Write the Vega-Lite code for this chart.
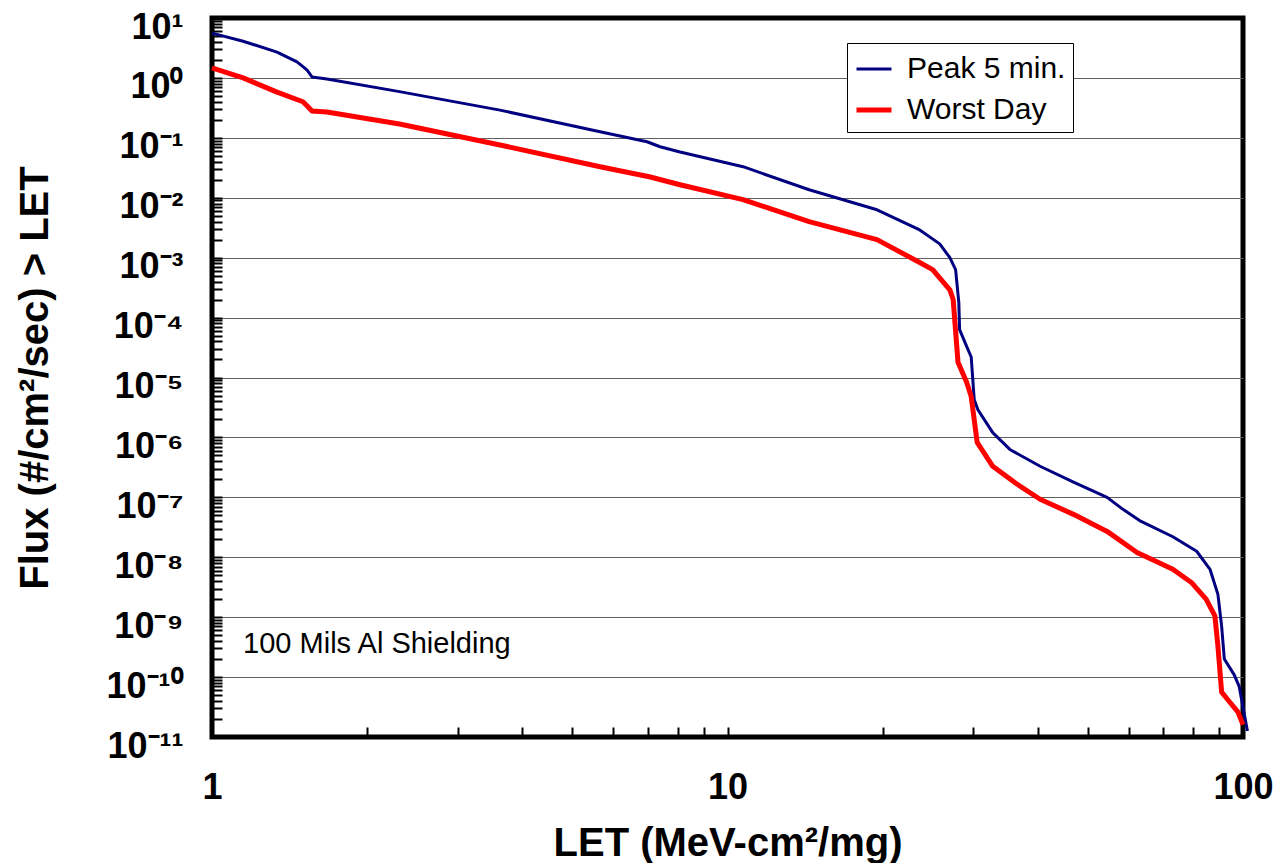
{
  "$schema": "https://vega.github.io/schema/vega-lite/v6.json",
  "width": 1031,
  "height": 719,
  "autosize": "none",
  "padding": {"left": 212, "top": 18, "right": 36, "bottom": 126},
  "background": "white",
  "config": {
    "view": {"stroke": "black", "strokeWidth": 5},
    "font": "Liberation Sans",
    "axis": {
      "labelFont": "Liberation Sans",
      "labelFontWeight": "bold",
      "labelFontSize": 36,
      "labelColor": "black",
      "titleFont": "Liberation Sans",
      "titleFontSize": 40,
      "titleFontWeight": "bold",
      "titleColor": "black",
      "ticks": true,
      "tickColor": "black",
      "tickWidth": 2,
      "tickSize": -10,
      "domain": false
    },
    "legend": {
      "labelFont": "Liberation Sans",
      "labelFontSize": 30,
      "labelColor": "black",
      "labelOffset": 13,
      "symbolType": "stroke",
      "symbolSize": 1225,
      "padding": 7,
      "rowPadding": 6,
      "strokeColor": "black",
      "fillColor": "white",
      "cornerRadius": 0
    }
  },
  "datasets": {
    "curves": [
      {"series": "Peak 5 min.", "let": 1.0, "flux": 5.6},
      {"series": "Peak 5 min.", "let": 1.149, "flux": 4.1},
      {"series": "Peak 5 min.", "let": 1.337, "flux": 2.7},
      {"series": "Peak 5 min.", "let": 1.462, "flux": 1.85},
      {"series": "Peak 5 min.", "let": 1.528, "flux": 1.36},
      {"series": "Peak 5 min.", "let": 1.563, "flux": 1.04},
      {"series": "Peak 5 min.", "let": 1.671, "flux": 0.96},
      {"series": "Peak 5 min.", "let": 2.31, "flux": 0.59},
      {"series": "Peak 5 min.", "let": 3.62, "flux": 0.29},
      {"series": "Peak 5 min.", "let": 5.66, "flux": 0.126},
      {"series": "Peak 5 min.", "let": 6.98, "flux": 0.086},
      {"series": "Peak 5 min.", "let": 7.4, "flux": 0.071},
      {"series": "Peak 5 min.", "let": 8.09, "flux": 0.058},
      {"series": "Peak 5 min.", "let": 10.72, "flux": 0.033},
      {"series": "Peak 5 min.", "let": 14.4, "flux": 0.0136},
      {"series": "Peak 5 min.", "let": 19.5, "flux": 0.0063},
      {"series": "Peak 5 min.", "let": 23.6, "flux": 0.0029},
      {"series": "Peak 5 min.", "let": 25.8, "flux": 0.0017},
      {"series": "Peak 5 min.", "let": 27.0, "flux": 0.001},
      {"series": "Peak 5 min.", "let": 27.7, "flux": 0.00063},
      {"series": "Peak 5 min.", "let": 28.1, "flux": 0.00018},
      {"series": "Peak 5 min.", "let": 28.2, "flux": 0.000063},
      {"series": "Peak 5 min.", "let": 29.1, "flux": 0.000033},
      {"series": "Peak 5 min.", "let": 29.7, "flux": 0.000022},
      {"series": "Peak 5 min.", "let": 30.1, "flux": 0.0000043},
      {"series": "Peak 5 min.", "let": 30.6, "flux": 0.0000029},
      {"series": "Peak 5 min.", "let": 32.7, "flux": 0.0000012},
      {"series": "Peak 5 min.", "let": 35.3, "flux": 6.3e-7},
      {"series": "Peak 5 min.", "let": 40.4, "flux": 3.3e-7},
      {"series": "Peak 5 min.", "let": 46.9, "flux": 1.8e-7},
      {"series": "Peak 5 min.", "let": 54.5, "flux": 1.0e-7},
      {"series": "Peak 5 min.", "let": 58.5, "flux": 6.3e-8},
      {"series": "Peak 5 min.", "let": 63.3, "flux": 4.0e-8},
      {"series": "Peak 5 min.", "let": 73.1, "flux": 2.2e-8},
      {"series": "Peak 5 min.", "let": 81.3, "flux": 1.26e-8},
      {"series": "Peak 5 min.", "let": 86.3, "flux": 6.3e-9},
      {"series": "Peak 5 min.", "let": 89.4, "flux": 2.4e-9},
      {"series": "Peak 5 min.", "let": 90.9, "flux": 7e-10},
      {"series": "Peak 5 min.", "let": 92.0, "flux": 2e-10},
      {"series": "Peak 5 min.", "let": 96.1, "flux": 1.1e-10},
      {"series": "Peak 5 min.", "let": 98.3, "flux": 7e-11},
      {"series": "Peak 5 min.", "let": 102.0, "flux": 1.26e-11},
      {"series": "Worst Day", "let": 1.0, "flux": 1.47},
      {"series": "Worst Day", "let": 1.149, "flux": 1.0},
      {"series": "Worst Day", "let": 1.337, "flux": 0.58},
      {"series": "Worst Day", "let": 1.501, "flux": 0.40},
      {"series": "Worst Day", "let": 1.535, "flux": 0.33},
      {"series": "Worst Day", "let": 1.563, "flux": 0.28},
      {"series": "Worst Day", "let": 1.671, "flux": 0.27},
      {"series": "Worst Day", "let": 2.31, "flux": 0.17},
      {"series": "Worst Day", "let": 3.62, "flux": 0.076},
      {"series": "Worst Day", "let": 5.66, "flux": 0.033},
      {"series": "Worst Day", "let": 7.05, "flux": 0.0224},
      {"series": "Worst Day", "let": 8.09, "flux": 0.0165},
      {"series": "Worst Day", "let": 10.72, "flux": 0.0093},
      {"series": "Worst Day", "let": 14.4, "flux": 0.004},
      {"series": "Worst Day", "let": 19.5, "flux": 0.002},
      {"series": "Worst Day", "let": 23.6, "flux": 0.00083},
      {"series": "Worst Day", "let": 25.0, "flux": 0.00063},
      {"series": "Worst Day", "let": 27.0, "flux": 0.00029},
      {"series": "Worst Day", "let": 27.4, "flux": 0.0002},
      {"series": "Worst Day", "let": 28.0, "flux": 0.000018},
      {"series": "Worst Day", "let": 29.1, "flux": 0.0000083},
      {"series": "Worst Day", "let": 29.7, "flux": 0.0000048},
      {"series": "Worst Day", "let": 30.5, "flux": 8.3e-7},
      {"series": "Worst Day", "let": 32.7, "flux": 3.3e-7},
      {"series": "Worst Day", "let": 36.3, "flux": 1.7e-7},
      {"series": "Worst Day", "let": 40.4, "flux": 9.3e-8},
      {"series": "Worst Day", "let": 46.9, "flux": 5.2e-8},
      {"series": "Worst Day", "let": 54.5, "flux": 2.7e-8},
      {"series": "Worst Day", "let": 62.3, "flux": 1.2e-8},
      {"series": "Worst Day", "let": 73.1, "flux": 6.3e-9},
      {"series": "Worst Day", "let": 79.4, "flux": 3.8e-9},
      {"series": "Worst Day", "let": 84.8, "flux": 2.0e-9},
      {"series": "Worst Day", "let": 88.2, "flux": 1.05e-9},
      {"series": "Worst Day", "let": 89.4, "flux": 3.3e-10},
      {"series": "Worst Day", "let": 90.9, "flux": 5.6e-11},
      {"series": "Worst Day", "let": 94.3, "flux": 3.8e-11},
      {"series": "Worst Day", "let": 97.8, "flux": 2.6e-11},
      {"series": "Worst Day", "let": 100.0, "flux": 1.6e-11}
    ],
    "notes": [
      {"let": 1.149, "flux": 3.5e-10, "label": "100 Mils Al Shielding"}
    ]
  },
  "layer": [
    {
      "data": {"name": "curves"},
      "mark": {"type": "line", "clip": false, "strokeJoin": "round"},
      "encoding": {
        "x": {
          "field": "let",
          "type": "quantitative",
          "scale": {"type": "log", "domain": [1, 100], "nice": false},
          "axis": {
            "title": "LET (MeV-cm²/mg)",
            "values": [1, 2, 3, 4, 5, 6, 7, 8, 9, 10, 20, 30, 40, 50, 60, 70, 80, 90, 100],
            "labelExpr": "(datum.value == 1 || datum.value == 10 || datum.value == 100) ? ('' + datum.value) : ''",
            "grid": false,
            "labelPadding": 43,
            "labelBaseline": "top",
            "titlePadding": 18,
            "labelFlush": false,
            "labelOverlap": false,
            "zindex": 2
          }
        },
        "y": {
          "field": "flux",
          "type": "quantitative",
          "scale": {"type": "log", "domain": [1e-11, 10], "nice": false},
          "axis": {
            "title": "Flux (#/cm²/sec) > LET",
            "values": [1e-11, 2e-11, 3e-11, 4e-11, 5e-11, 6e-11, 7e-11, 8e-11, 9e-11,
                       1e-10, 2e-10, 3e-10, 4e-10, 5e-10, 6e-10, 7e-10, 8e-10, 9e-10,
                       1e-9, 2e-9, 3e-9, 4e-9, 5e-9, 6e-9, 7e-9, 8e-9, 9e-9,
                       1e-8, 2e-8, 3e-8, 4e-8, 5e-8, 6e-8, 7e-8, 8e-8, 9e-8,
                       1e-7, 2e-7, 3e-7, 4e-7, 5e-7, 6e-7, 7e-7, 8e-7, 9e-7,
                       1e-6, 2e-6, 3e-6, 4e-6, 5e-6, 6e-6, 7e-6, 8e-6, 9e-6,
                       1e-5, 2e-5, 3e-5, 4e-5, 5e-5, 6e-5, 7e-5, 8e-5, 9e-5,
                       1e-4, 2e-4, 3e-4, 4e-4, 5e-4, 6e-4, 7e-4, 8e-4, 9e-4,
                       1e-3, 2e-3, 3e-3, 4e-3, 5e-3, 6e-3, 7e-3, 8e-3, 9e-3,
                       0.01, 0.02, 0.03, 0.04, 0.05, 0.06, 0.07, 0.08, 0.09,
                       0.1, 0.2, 0.3, 0.4, 0.5, 0.6, 0.7, 0.8, 0.9,
                       1, 2, 3, 4, 5, 6, 7, 8, 9, 10],
            "labelExpr": "(abs(log(datum.value)/LN10 - round(log(datum.value)/LN10)) < 0.001) ? ('10' + (round(log(datum.value)/LN10) < 0 ? '⁻' : '') + ['⁰','¹','²','³','⁴','⁵','⁶','⁷','⁸','⁹','¹⁰','¹¹'][abs(round(log(datum.value)/LN10))]) : ''",
            "grid": true,
            "gridColor": "#606060",
            "gridWidth": 1.2,
            "gridOpacity": {
              "condition": {
                "test": "abs(log(datum.value)/LN10 - round(log(datum.value)/LN10)) < 0.001 && datum.value > 2e-11 && datum.value < 5",
                "value": 1
              },
              "value": 0
            },
            "labelPadding": 39,
            "labelOffset": 9,
            "titlePadding": 50,
            "labelFlush": false,
            "labelOverlap": false
          }
        },
        "color": {
          "field": "series",
          "type": "nominal",
          "scale": {"domain": ["Peak 5 min.", "Worst Day"], "range": ["#000080", "#ff0000"]},
          "legend": {"orient": "none", "legendX": 635, "legendY": 25, "title": null}
        },
        "strokeWidth": {
          "field": "series",
          "type": "nominal",
          "scale": {"domain": ["Peak 5 min.", "Worst Day"], "range": [3, 5]},
          "legend": {"orient": "none", "legendX": 635, "legendY": 25, "title": null}
        }
      }
    },
    {
      "data": {"name": "notes"},
      "mark": {"type": "text", "align": "left", "baseline": "middle", "fontSize": 29, "font": "Liberation Sans", "color": "black"},
      "encoding": {
        "x": {"field": "let", "type": "quantitative"},
        "y": {"field": "flux", "type": "quantitative"},
        "text": {"field": "label", "type": "nominal"}
      }
    }
  ]
}
